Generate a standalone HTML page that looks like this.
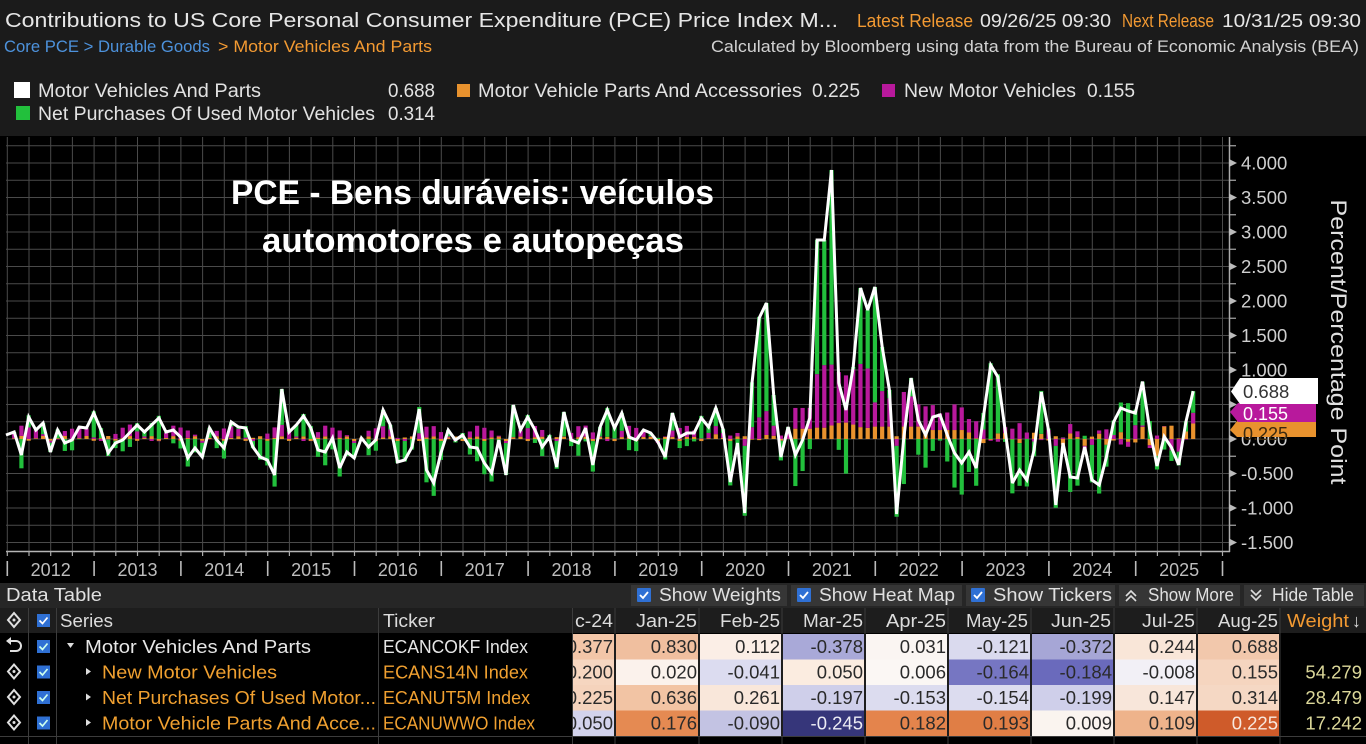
<!DOCTYPE html>
<html><head><meta charset="utf-8">
<style>
html,body{margin:0;padding:0;background:#000;}
svg{display:block;}
text{font-family:"Liberation Sans",Arial,sans-serif;}
</style></head>
<body>
<svg id="svg" xmlns="http://www.w3.org/2000/svg" width="1366" height="744" viewBox="0 0 1366 744">
<rect x="0" y="0" width="1366" height="744" fill="#000"/>
<!-- header -->
<rect x="0" y="0" width="1366" height="136" fill="#1b1b1b"/>
<text x="5" y="27" font-size="20.5" fill="#e6e6e6" textLength="833" lengthAdjust="spacingAndGlyphs">Contributions to US Core Personal Consumer Expenditure (PCE) Price Index M...</text>
<text x="857" y="27" font-size="18" fill="#f39a32" textLength="116" lengthAdjust="spacingAndGlyphs">Latest Release</text>
<text x="980" y="27" font-size="18" fill="#e6e6e6" textLength="131" lengthAdjust="spacingAndGlyphs">09/26/25 09:30</text>
<text x="1122" y="27" font-size="18" fill="#f39a32" textLength="92" lengthAdjust="spacingAndGlyphs">Next Release</text>
<text x="1222" y="27" font-size="18" fill="#e6e6e6" textLength="139" lengthAdjust="spacingAndGlyphs">10/31/25 09:30</text>
<text x="4" y="52" font-size="17" fill="#4d92dc" textLength="206" lengthAdjust="spacingAndGlyphs">Core PCE &gt; Durable Goods</text>
<text x="218" y="52" font-size="17" fill="#f39a32" textLength="214" lengthAdjust="spacingAndGlyphs">&gt; Motor Vehicles And Parts</text>
<text x="711" y="52" font-size="17" fill="#d2d2d2" textLength="648" lengthAdjust="spacingAndGlyphs">Calculated by Bloomberg using data from the Bureau of Economic Analysis (BEA)</text>
<!-- legend -->
<rect x="14" y="82" width="16" height="16" fill="#fff"/>
<text x="38" y="97" font-size="19" fill="#e2e2e2" textLength="223" lengthAdjust="spacingAndGlyphs">Motor Vehicles And Parts</text>
<text x="388" y="97" font-size="19" fill="#e2e2e2" textLength="47" lengthAdjust="spacingAndGlyphs">0.688</text>
<rect x="457" y="84" width="13" height="13" fill="#e8922e"/>
<text x="478" y="97" font-size="19" fill="#e2e2e2" textLength="324" lengthAdjust="spacingAndGlyphs">Motor Vehicle Parts And Accessories</text>
<text x="812" y="97" font-size="19" fill="#e2e2e2" textLength="48" lengthAdjust="spacingAndGlyphs">0.225</text>
<rect x="882" y="84" width="13" height="13" fill="#b8199c"/>
<text x="904" y="97" font-size="19" fill="#e2e2e2" textLength="172" lengthAdjust="spacingAndGlyphs">New Motor Vehicles</text>
<text x="1087" y="97" font-size="19" fill="#e2e2e2" textLength="48" lengthAdjust="spacingAndGlyphs">0.155</text>
<rect x="16" y="106" width="14" height="14" fill="#22c03c"/>
<text x="38" y="120" font-size="19" fill="#e2e2e2" textLength="337" lengthAdjust="spacingAndGlyphs">Net Purchases Of Used Motor Vehicles</text>
<text x="388" y="120" font-size="19" fill="#e2e2e2" textLength="47" lengthAdjust="spacingAndGlyphs">0.314</text>

<!-- chart -->
<g id="grid" stroke="#4a4a4a" stroke-width="1"></g>
<g id="bars"></g>
<g id="line"></g>
<g id="axes"></g>

<!-- overlay title -->
<text x="231" y="204" font-size="34" font-weight="bold" fill="#fff" textLength="483" lengthAdjust="spacingAndGlyphs">PCE - Bens duráveis: veículos</text>
<text x="262" y="252" font-size="34" font-weight="bold" fill="#fff" textLength="422" lengthAdjust="spacingAndGlyphs">automotores e autopeças</text>

<!-- right axis labels -->
<g font-size="18.5" fill="#cfcfcf">
<text x="1241" y="169.5">4.000</text>
<text x="1241" y="204">3.500</text>
<text x="1241" y="238.5">3.000</text>
<text x="1241" y="273">2.500</text>
<text x="1241" y="307.5">2.000</text>
<text x="1241" y="342">1.500</text>
<text x="1241" y="376.5">1.000</text>
<text x="1241" y="411">0.500</text>
<text x="1241" y="445.5">0.000</text>
<text x="1241" y="480">-0.500</text>
<text x="1241" y="514.5">-1.000</text>
<text x="1241" y="549">-1.500</text>
</g>
<text transform="translate(1331,342) rotate(90)" text-anchor="middle" font-size="22" fill="#e0e0e0" textLength="285" lengthAdjust="spacingAndGlyphs">Percent/Percentage Point</text>
<!-- value tags -->
<polygon points="1230,430 1237,421 1316,421 1316,437 1237,437" fill="#e8922e"/>
<text x="1243" y="440" font-size="18" fill="#3a2a10">0.225</text>
<polygon points="1230,412 1238,403 1316,403 1316,422 1238,422" fill="#b8199c"/>
<text x="1243" y="420" font-size="18" fill="#fff">0.155</text>
<polygon points="1231,391.5 1240,378 1318,378 1318,404 1240,404" fill="#fff"/>
<text x="1243" y="398" font-size="18.5" fill="#333">0.688</text>

<!-- year labels -->
<g font-size="18" fill="#bdbdbd" text-anchor="middle">
<text x="50.7" y="576">2012</text><text x="137.5" y="576">2013</text><text x="224.3" y="576">2014</text>
<text x="311.1" y="576">2015</text><text x="397.9" y="576">2016</text><text x="484.7" y="576">2017</text>
<text x="571.5" y="576">2018</text><text x="658.3" y="576">2019</text><text x="745.1" y="576">2020</text>
<text x="831.9" y="576">2021</text><text x="918.7" y="576">2022</text><text x="1005.5" y="576">2023</text>
<text x="1092.3" y="576">2024</text><text x="1179.1" y="576">2025</text>
</g>

<!-- DATA TABLE -->
<rect x="0" y="583" width="1366" height="25" fill="#262626"/>
<text x="6" y="601" font-size="18" fill="#e0e0e0" textLength="96" lengthAdjust="spacingAndGlyphs">Data Table</text>
<rect x="631" y="585" width="156" height="21" fill="#363636"/>
<rect x="791" y="585" width="171" height="21" fill="#363636"/>
<rect x="966" y="585" width="149" height="21" fill="#363636"/>
<rect x="1119" y="585" width="121" height="21" fill="#363636"/>
<rect x="1244" y="585" width="120" height="21" fill="#363636"/>
<g>
<rect x="637" y="588" width="14" height="14" fill="#2f70d4" rx="1"/><path d="M640 595 l3 3 l5 -6" stroke="#fff" stroke-width="1.8" fill="none"/>
<rect x="797" y="588" width="14" height="14" fill="#2f70d4" rx="1"/><path d="M800 595 l3 3 l5 -6" stroke="#fff" stroke-width="1.8" fill="none"/>
<rect x="971" y="588" width="14" height="14" fill="#2f70d4" rx="1"/><path d="M974 595 l3 3 l5 -6" stroke="#fff" stroke-width="1.8" fill="none"/>
<path d="M1126 596 l5 -5 l5 5 M1126 601 l5 -5 l5 5" stroke="#ddd" stroke-width="1.6" fill="none"/>
<path d="M1251 590 l5 5 l5 -5 M1251 595 l5 5 l5 -5" stroke="#ddd" stroke-width="1.6" fill="none"/>
</g>
<g font-size="18" fill="#e0e0e0">
<text x="659" y="601" textLength="122" lengthAdjust="spacingAndGlyphs">Show Weights</text>
<text x="819" y="601" textLength="136" lengthAdjust="spacingAndGlyphs">Show Heat Map</text>
<text x="993" y="601" textLength="119" lengthAdjust="spacingAndGlyphs">Show Tickers</text>
<text x="1148" y="601" textLength="86" lengthAdjust="spacingAndGlyphs">Show More</text>
<text x="1272" y="601" textLength="82" lengthAdjust="spacingAndGlyphs">Hide Table</text>
</g>
<!-- header row -->
<rect x="0" y="608" width="1366" height="25" fill="#1d1d1d"/>
<!-- heat cells -->
<g>
<rect x="573" y="634" width="41" height="25.5" fill="#f3c6a8"/>
<rect x="616" y="634" width="82" height="25.5" fill="#f0bf9f"/>
<rect x="700" y="634" width="81" height="25.5" fill="#fbeee6"/>
<rect x="783" y="634" width="81" height="25.5" fill="#a9a9d8"/>
<rect x="866" y="634" width="81" height="25.5" fill="#faf5f2"/>
<rect x="949" y="634" width="81" height="25.5" fill="#dadaee"/>
<rect x="1032" y="634" width="81" height="25.5" fill="#a6a6d6"/>
<rect x="1115" y="634" width="81" height="25.5" fill="#f9e6d8"/>
<rect x="1198" y="634" width="81" height="25.5" fill="#f2c8ac"/>
<rect x="573" y="659.5" width="41" height="25.5" fill="#f6d6c0"/>
<rect x="616" y="659.5" width="82" height="25.5" fill="#fbf2ec"/>
<rect x="700" y="659.5" width="81" height="25.5" fill="#dcdcf0"/>
<rect x="783" y="659.5" width="81" height="25.5" fill="#fbece0"/>
<rect x="866" y="659.5" width="81" height="25.5" fill="#fbf7f4"/>
<rect x="949" y="659.5" width="81" height="25.5" fill="#7676c2"/>
<rect x="1032" y="659.5" width="81" height="25.5" fill="#6a6abc"/>
<rect x="1115" y="659.5" width="81" height="25.5" fill="#f2f0f6"/>
<rect x="1198" y="659.5" width="81" height="25.5" fill="#f5d5bf"/>
<rect x="573" y="685" width="41" height="25.5" fill="#f5d3bc"/>
<rect x="616" y="685" width="82" height="25.5" fill="#f2c4a4"/>
<rect x="700" y="685" width="81" height="25.5" fill="#f9e7da"/>
<rect x="783" y="685" width="81" height="25.5" fill="#cfcfea"/>
<rect x="866" y="685" width="81" height="25.5" fill="#dcdcef"/>
<rect x="949" y="685" width="81" height="25.5" fill="#dcdcef"/>
<rect x="1032" y="685" width="81" height="25.5" fill="#cfcfea"/>
<rect x="1115" y="685" width="81" height="25.5" fill="#f8e6da"/>
<rect x="1198" y="685" width="81" height="25.5" fill="#f5d8c4"/>
<rect x="573" y="710.5" width="41" height="25.5" fill="#d3d3ec"/>
<rect x="616" y="710.5" width="82" height="25.5" fill="#e58a52"/>
<rect x="700" y="710.5" width="81" height="25.5" fill="#c3c3e3"/>
<rect x="783" y="710.5" width="81" height="25.5" fill="#36367a"/>
<rect x="866" y="710.5" width="81" height="25.5" fill="#e4844c"/>
<rect x="949" y="710.5" width="81" height="25.5" fill="#e07e45"/>
<rect x="1032" y="710.5" width="81" height="25.5" fill="#faf4ef"/>
<rect x="1115" y="710.5" width="81" height="25.5" fill="#eeb38b"/>
<rect x="1198" y="710.5" width="81" height="25.5" fill="#cf5b2a"/>
</g>
<!-- column separators -->
<g stroke="#3c3c3c" stroke-width="1">
<line x1="28.5" y1="608" x2="28.5" y2="744"/>
<line x1="56.5" y1="608" x2="56.5" y2="744"/>
<line x1="378.5" y1="608" x2="378.5" y2="744"/>
<line x1="572.5" y1="608" x2="572.5" y2="744"/>
<line x1="615" y1="608" x2="615" y2="744"/>
<line x1="699" y1="608" x2="699" y2="744"/>
<line x1="782" y1="608" x2="782" y2="744"/>
<line x1="865" y1="608" x2="865" y2="744"/>
<line x1="948" y1="608" x2="948" y2="744"/>
<line x1="1031" y1="608" x2="1031" y2="744"/>
<line x1="1114" y1="608" x2="1114" y2="744"/>
<line x1="1197" y1="608" x2="1197" y2="744"/>
<line x1="1280" y1="608" x2="1280" y2="744"/>
<line x1="0" y1="736.5" x2="1366" y2="736.5"/>
</g>
<!-- header texts -->
<g font-size="18" fill="#dcdcdc">
<text x="60" y="627" textLength="53" lengthAdjust="spacingAndGlyphs">Series</text>
<text x="383" y="627" textLength="52" lengthAdjust="spacingAndGlyphs">Ticker</text>
</g>
<g font-size="18" fill="#dcdcdc" text-anchor="end">
<text x="613" y="627" textLength="38" lengthAdjust="spacingAndGlyphs">c-24</text>
<text x="697" y="627" textLength="61" lengthAdjust="spacingAndGlyphs">Jan-25</text>
<text x="780" y="627" textLength="60" lengthAdjust="spacingAndGlyphs">Feb-25</text>
<text x="863" y="627" textLength="60" lengthAdjust="spacingAndGlyphs">Mar-25</text>
<text x="946" y="627" textLength="60" lengthAdjust="spacingAndGlyphs">Apr-25</text>
<text x="1028" y="627" textLength="62" lengthAdjust="spacingAndGlyphs">May-25</text>
<text x="1111" y="627" textLength="60" lengthAdjust="spacingAndGlyphs">Jun-25</text>
<text x="1195" y="627" textLength="53" lengthAdjust="spacingAndGlyphs">Jul-25</text>
<text x="1278" y="627" textLength="60" lengthAdjust="spacingAndGlyphs">Aug-25</text>
</g>
<text x="1287" y="627" font-size="18" fill="#f39a32" textLength="62" lengthAdjust="spacingAndGlyphs">Weight</text>
<text x="1352" y="627" font-size="18" fill="#dcdcdc">↓</text>
<!-- icons -->
<g stroke="#e0e0e0" stroke-width="2" fill="none">
<path d="M14 613 l6 7 l-6 7 l-6 -7 z"/>
<path d="M14 664.5 l6 7 l-6 7 l-6 -7 z"/>
<path d="M14 690 l6 7 l-6 7 l-6 -7 z"/>
<path d="M14 715.5 l6 7 l-6 7 l-6 -7 z"/>
<path d="M9 641 h7 a5 5 0 0 1 0 10 h-6"/>
</g>
<path d="M6 641 l5 -4 v8 z" fill="#e0e0e0"/>
<g fill="#e0e0e0"><circle cx="14" cy="620" r="1.5"/><circle cx="14" cy="671.5" r="1.5"/><circle cx="14" cy="697" r="1.5"/><circle cx="14" cy="722.5" r="1.5"/></g>
<!-- checkboxes -->
<g>
<rect x="37" y="614" width="13" height="13" fill="#2f70d4"/><path d="M39.5 620.5 l3 3 l5 -6" stroke="#fff" stroke-width="1.7" fill="none"/>
<rect x="37" y="640" width="13" height="13" fill="#2f70d4"/><path d="M39.5 646.5 l3 3 l5 -6" stroke="#cfe" stroke-width="1.7" fill="none"/>
<rect x="37" y="665.5" width="13" height="13" fill="#2f70d4"/><path d="M39.5 672 l3 3 l5 -6" stroke="#cfe" stroke-width="1.7" fill="none"/>
<rect x="37" y="691" width="13" height="13" fill="#2f70d4"/><path d="M39.5 697.5 l3 3 l5 -6" stroke="#cfe" stroke-width="1.7" fill="none"/>
<rect x="37" y="716.5" width="13" height="13" fill="#2f70d4"/><path d="M39.5 723 l3 3 l5 -6" stroke="#cfe" stroke-width="1.7" fill="none"/>
</g>
<!-- series rows -->
<path d="M67 643 h7 l-3.5 5 z" fill="#ddd"/>
<path d="M86 668 v7 l5 -3.5 z" fill="#ddd"/>
<path d="M86 693.5 v7 l5 -3.5 z" fill="#ddd"/>
<path d="M86 719 v7 l5 -3.5 z" fill="#ddd"/>
<g font-size="18.5">
<text x="85" y="653" fill="#e6e6e6" textLength="226" lengthAdjust="spacingAndGlyphs">Motor Vehicles And Parts</text>
<text x="102" y="678.5" fill="#f0a030" textLength="175" lengthAdjust="spacingAndGlyphs">New Motor Vehicles</text>
<text x="102" y="704" fill="#f0a030" textLength="274" lengthAdjust="spacingAndGlyphs">Net Purchases Of Used Motor...</text>
<text x="102" y="729.5" fill="#f0a030" textLength="274" lengthAdjust="spacingAndGlyphs">Motor Vehicle Parts And Acce...</text>
<text x="383" y="653" fill="#e6e6e6" textLength="145" lengthAdjust="spacingAndGlyphs">ECANCOKF Index</text>
<text x="383" y="678.5" fill="#f0a030" textLength="145" lengthAdjust="spacingAndGlyphs">ECANS14N Index</text>
<text x="383" y="704" fill="#f0a030" textLength="147" lengthAdjust="spacingAndGlyphs">ECANUT5M Index</text>
<text x="383" y="729.5" fill="#f0a030" textLength="152" lengthAdjust="spacingAndGlyphs">ECANUWWO Index</text>
</g>
<!-- cell values -->
<defs><clipPath id="c24"><rect x="573" y="630" width="41" height="110"/></clipPath></defs>
<g font-size="18.5" fill="#2a2a2a" text-anchor="end" clip-path="url(#c24)">
<text x="613" y="653">0.377</text><text x="613" y="678.5">0.200</text><text x="613" y="704">0.225</text><text x="613" y="729.5">-0.050</text>
</g>
<g font-size="18.5" fill="#2a2a2a" text-anchor="end">
<text x="697" y="653">0.830</text><text x="780" y="653">0.112</text><text x="863" y="653">-0.378</text><text x="946" y="653">0.031</text><text x="1029" y="653">-0.121</text><text x="1112" y="653">-0.372</text><text x="1195" y="653">0.244</text><text x="1278" y="653">0.688</text>
<text x="697" y="678.5">0.020</text><text x="780" y="678.5">-0.041</text><text x="863" y="678.5">0.050</text><text x="946" y="678.5">0.006</text><text x="1029" y="678.5">-0.164</text><text x="1112" y="678.5">-0.184</text><text x="1195" y="678.5">-0.008</text><text x="1278" y="678.5">0.155</text>
<text x="697" y="704">0.636</text><text x="780" y="704">0.261</text><text x="863" y="704">-0.197</text><text x="946" y="704">-0.153</text><text x="1029" y="704">-0.154</text><text x="1112" y="704">-0.199</text><text x="1195" y="704">0.147</text><text x="1278" y="704">0.314</text>
<text x="697" y="729.5">0.176</text><text x="780" y="729.5">-0.090</text><text x="863" y="729.5" fill="#ececf4">-0.245</text><text x="946" y="729.5">0.182</text><text x="1029" y="729.5">0.193</text><text x="1112" y="729.5">0.009</text><text x="1195" y="729.5">0.109</text><text x="1278" y="729.5" fill="#f8e8de">0.225</text>
</g>
<g font-size="18.5" fill="#dcd89a" text-anchor="end">
<text x="1362" y="678.5">54.279</text><text x="1362" y="704">28.479</text><text x="1362" y="729.5">17.242</text>
</g>
</svg>
<script>
(function(){
var NS='http://www.w3.org/2000/svg';
function el(tag,a,p){var e=document.createElementNS(NS,tag);for(var k in a)e.setAttribute(k,a[k]);p.appendChild(e);return e;}
var Y0=439,S=69;
function yv(v){return Y0-v*S;}
function xm(m){return 14.2+m*7.233;}
var grid=document.getElementById('grid');
for(var j=-6;j<=17;j++){var y=yv(j*0.25);el('line',{x1:6,x2:1229,y1:y,y2:y},grid);}
for(var k=0;k<=56;k++){var x=7.3+k*21.7;el('line',{x1:x,x2:x,y1:137,y2:551},grid);}
var ax=document.getElementById('axes');
el('line',{x1:1229.5,x2:1229.5,y1:137,y2:552,stroke:'#aaa','stroke-width':1.5},ax);
el('line',{x1:6,x2:1230,y1:551.5,y2:551.5,stroke:'#b5b5b5','stroke-width':1.5},ax);
for(var j=-6;j<=17;j++){var y=yv(j*0.25);
 if(j%2==0){el('polygon',{points:'1229,'+(y-4)+' 1237,'+y+' 1229,'+(y+4),fill:'#bbb'},ax);}
 else el('line',{x1:1229,x2:1236,y1:y,y2:y,stroke:'#aaa','stroke-width':1.2},ax);}
for(var k=0;k<=56;k++){var x=7.3+k*21.7;
 el('line',{x1:x,x2:x,y1:551,y2:556,stroke:'#aaa','stroke-width':1.2},ax);
 if(k%4==0)el('line',{x1:x,x2:x,y1:561,y2:576,stroke:'#bbb','stroke-width':1.6},ax);}
var T=[[5,435],[13,432],[22,455],[28,417],[35,430],[42,423],[50,452],[58,430],[65,443],[72,440],[80,427],[88,428],[94,413],[102,430],[110,453],[117,443],[125,440],[137,425],[147,432],[158,418],[165,432],[172,430],[180,437],[187,458],[195,448],[202,457],[212,428],[217,440],[223,448],[232,422],[238,427],[247,428],[253,447],[263,457],[268,460],[276,475],[283,389],[290,432],[297,425],[304,416],[312,428],[319,450],[327,452],[333,438],[340,468],[347,452],[353,458],[362,438],[368,447],[375,440],[383,410],[390,425],[398,462],[405,460],[413,447],[420,409],[428,470],[435,483],[442,453],[448,430],[455,440],[462,435],[468,447],[477,448],[483,463],[492,473],[498,440],[506,475],[513,405],[520,430],[527,417],[533,430],[542,447],[548,437],[557,467],[563,412],[572,440],[578,443],[585,428],[592,465],[600,427],[607,410],[613,428],[620,413],[627,437],[633,440],[643,430],[650,433],[658,442],[666,457],[673,413],[680,437],[687,433],[695,433],[702,418],[708,427],[716,408],[723,429],[730,482],[737,443],[745,513],[752,383],[760,318],[767,303],[774,395],[782,457],[788,427],[797,455],[805,440],[812,418],[817,240],[823,240],[832,170],[839,383],[846,410],[853,367],[860,288],[868,310],[875,287],[883,347],[890,390],[897,514],[904,437],[912,378],[919,420],[927,435],[935,417],[940,415],[947,435],[953,453],[962,463],[968,452],[975,468],[983,417],[992,365],[998,377],[1005,430],[1013,483],[1020,470],[1027,480],[1033,450],[1041,392],[1048,430],[1056,505],[1063,443],[1070,477],[1077,478],[1085,447],[1092,480],[1100,485],[1107,457],[1113,422],[1122,408],[1128,411]];
var M={};
T.forEach(function(p){var m=Math.round((p[0]-14.2)/7.233);var d=Math.abs(p[0]-xm(m));if(!(m in M)||d<M[m].d)M[m]={v:(Y0-p[1])/S,d:d};});
var EX={155:[-0.050,0.200,0.225],156:[0.176,0.020,0.636],157:[-0.090,-0.041,0.261],158:[-0.245,0.050,-0.197],159:[0.182,0.006,-0.153],160:[0.193,-0.164,-0.154],161:[0.009,-0.184,-0.199],162:[0.109,-0.008,0.147],163:[0.225,0.155,0.314]};
for(var m in EX){var e=EX[m];M[m]={v:e[0]+e[1]+e[2],d:0};}
var keys=Object.keys(M).map(Number).sort(function(a,b){return a-b;});
var V={};
for(var m=-1;m<=163;m++){
 if(m in M){V[m]=M[m].v;continue;}
 var a=null,b=null;for(var i=0;i<keys.length;i++){if(keys[i]<m)a=keys[i];if(keys[i]>m&&b===null)b=keys[i];}
 if(a===null)V[m]=M[b].v;else if(b===null)V[m]=M[a].v;else V[m]=M[a].v+(M[b].v-M[a].v)*(m-a)/(b-a);
}
var bars=document.getElementById('bars');
var cols=['#e8922e','#b8199c','#22c03c'];
for(var m=0;m<=163;m++){
 var t=V[m],o,n,g;
 if(EX[m]){o=EX[m][0];n=EX[m][1];g=EX[m][2];}
 else{
  if(m<96){o=0.04*Math.sin(m*2.1)+0.01;n=0.1*Math.sin(m*0.9)+0.07;}
  else if(m<108){o=0.05*Math.sin(m*1.7)+0.02;n=0.15*Math.max(t,0)+0.05;}
  else if(m<111){o=0.15;n=0.3;}
  else if(m<119){o=0.2+0.04*Math.sin(m);n=0.8+0.12*Math.sin(m*1.3);}
  else if(m<126){o=0.18;n=0.42+0.1*Math.sin(m*2);}
  else if(m<132){o=0.13;n=0.3+0.08*Math.sin(m*1.7);}
  else if(m<144){o=0.08*Math.sin(m*1.3)+0.02;n=0.15*Math.sin(m*1.1)+0.1;}
  else {o=0.1*Math.sin(m*1.9);n=0.12*Math.sin(m*1.3)+0.02;}
  if(t<-0.8){o=0.04;n=-0.1;}
  else if(t<-0.5){o=Math.min(o,0.1);n=Math.min(n,0.15);}
  g=t-o-n;
 }
 var x=xm(m)-2.1,pos=0,neg=0,arr=[o,n,g];
 for(var i=0;i<3;i++){var v=arr[i];
  if(v>=0){el('rect',{x:x,y:yv(pos+v),width:4.2,height:v*S,fill:cols[i]},bars);pos+=v;}
  else{el('rect',{x:x,y:yv(neg),width:4.2,height:-v*S,fill:cols[i]},bars);neg+=v;}}
}
var pts=[];
pts.push('6,'+yv(V[-1]).toFixed(1));
for(var m=0;m<=163;m++)pts.push(xm(m).toFixed(1)+','+yv(V[m]).toFixed(1));
el('polyline',{points:pts.join(' '),fill:'none',stroke:'#fff','stroke-width':3,'stroke-linejoin':'miter','stroke-miterlimit':3},document.getElementById('line'));
})();
</script>
</body></html>
